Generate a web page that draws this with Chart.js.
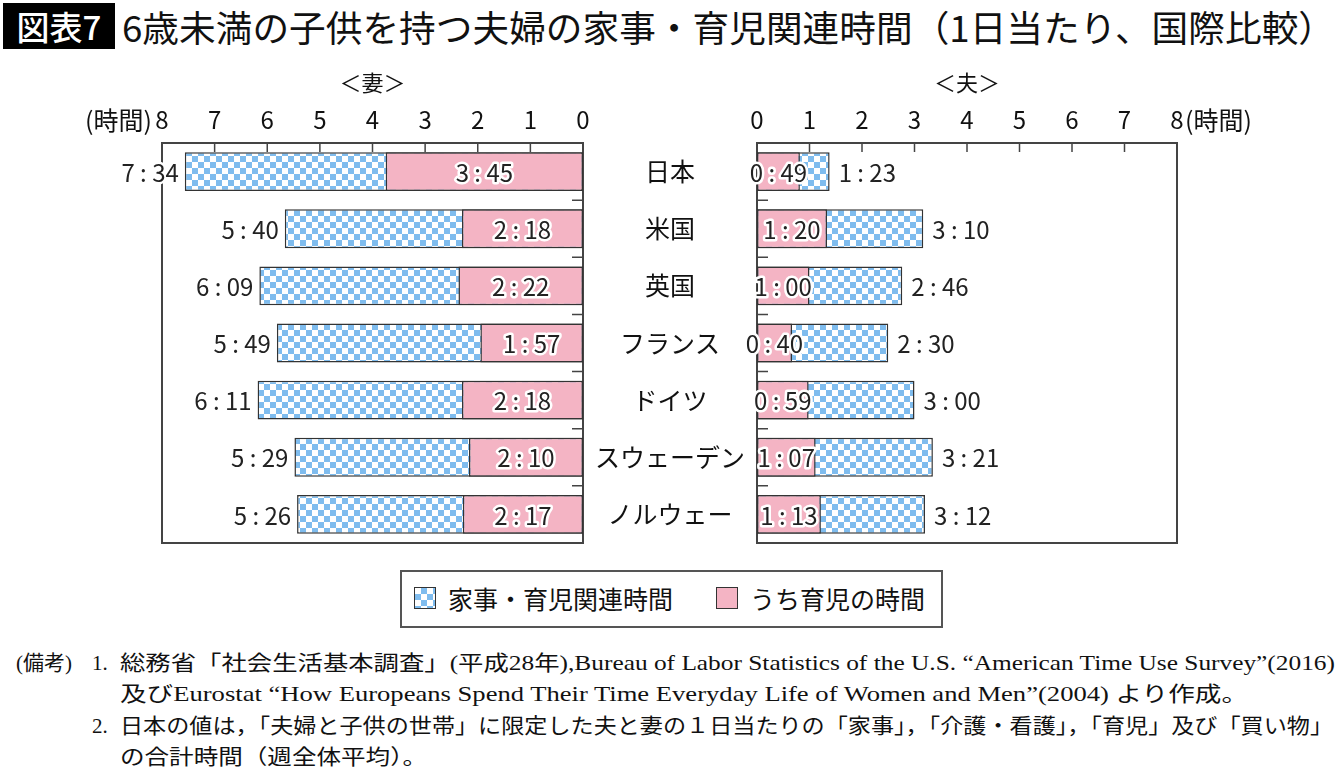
<!DOCTYPE html>
<html lang="ja">
<head>
<meta charset="utf-8">
<script src="https://cdn.jsdelivr.net/npm/chart.js@4.4.1/dist/chart.umd.min.js"></script>
<style>
body { margin:0; width:1340px; height:780px; background:#fff; position:relative; overflow:hidden; font-family:"Noto Sans CJK JP", sans-serif; color:#111; }
.abs { position:absolute; white-space:nowrap; }
#badge { left:3px; top:3px; width:112px; height:46px; background:#000; color:#fff; font-size:33px; font-weight:500; line-height:46px; text-align:center; }
#title { left:122px; top:0; font-size:36px; font-weight:400; line-height:52px; transform-origin:0 0; }
#wrapL { left:0; top:60px; width:757px; height:500px; }
#wrapR { left:700px; top:60px; width:640px; height:500px; }
#legend { left:400px; top:570px; width:539px; height:54px; border:2px solid #555; font-size:25px; }
#legend .mark { position:absolute; top:15px; width:22px; height:22px; border:1.5px solid #333; box-sizing:border-box; }
#legend .txt { position:absolute; top:-1px; line-height:54px; }
.note { font-family:"Liberation Serif","Noto Sans CJK JP",serif; font-size:21px; line-height:30px; transform-origin:0 50%; }
</style>
</head>
<body>
<div id="badge" class="abs">図表7</div>
<div id="title" class="abs">6歳未満の子供を持つ夫婦の家事・育児関連時間（1日当たり、国際比較）</div>

<div id="wrapL" class="abs"><canvas id="cL" width="757" height="500"></canvas></div>
<div id="wrapR" class="abs"><canvas id="cR" width="640" height="500"></canvas></div>

<div id="legend" class="abs">
  <span class="mark" id="mk1" style="left:12px"></span><span class="txt" style="left:46px">家事・育児関連時間</span>
  <span class="mark" id="mk2" style="left:314px"></span><span class="txt" style="left:348px">うち育児の時間</span>
</div>

<div class="abs note" style="left:16px; top:648px">(備考)</div>
<div class="abs note" style="left:92px; top:648px">1.</div>
<div class="abs note fit" data-w="1215" style="left:120px; top:648px">総務省「社会生活基本調査」(平成28年),Bureau of Labor Statistics of the U.S. “American Time Use Survey”(2016)</div>
<div class="abs note fit" data-w="1128" style="left:120px; top:679px">及びEurostat “How Europeans Spend Their Time Everyday Life of Women and Men”(2004) より作成。</div>
<div class="abs note" style="left:92px; top:711px">2.</div>
<div class="abs note fit" data-w="1213" style="left:120px; top:711px">日本の値は，「夫婦と子供の世帯」に限定した夫と妻の１日当たりの「家事」，「介護・看護」，「育児」及び「買い物」</div>
<div class="abs note fit" data-w="307" style="left:120px; top:742px">の合計時間（週全体平均）。</div>

<script>
// data (hours:minutes per day)
const countries = ['日本', '米国', '英国', 'フランス', 'ドイツ', 'スウェーデン', 'ノルウェー'];
const wifeTotal = ['7:34', '5:40', '6:09', '5:49', '6:11', '5:29', '5:26'];
const wifeChild = ['3:45', '2:18', '2:22', '1:57', '2:18', '2:10', '2:17'];
const husbandTotal = ['1:23', '3:10', '2:46', '2:30', '3:00', '3:21', '3:12'];
const husbandChild = ['0:49', '1:20', '1:00', '0:40', '0:59', '1:07', '1:13'];
const seriesNames = ['家事・育児関連時間', 'うち育児の時間'];

const FONT = '"Noto Sans CJK JP", sans-serif';
const PINK = '#f4b4c4';
const BLUE = '#7fbcee';

function toHours(s) {
    const p = s.split(':');
    return Number(p[0]) + Number(p[1]) / 60;
}
function fmt(s) {
    return s.replace(':', ' : ');
}

// checkered fill for the total bars
const tile = document.createElement('canvas');
tile.width = 12; tile.height = 12;
const tctx = tile.getContext('2d');
tctx.fillStyle = '#fff';
tctx.fillRect(0, 0, 12, 12);
tctx.fillStyle = BLUE;
tctx.fillRect(0, 0, 6, 6);
tctx.fillRect(6, 6, 6, 6);
const checker = tctx.createPattern(tile, 'repeat');

document.getElementById('mk1').style.background = 'repeating-conic-gradient(' + BLUE + ' 0 25%, #fff 0 50%) 0 0/12px 12px';
document.getElementById('mk2').style.background = PINK;

// box, inward ticks, heading and unit
const framePlugin = {
    id: 'frame',
    beforeDatasetsDraw(chart, args, opts) {
        const ctx = chart.ctx;
        const a = chart.chartArea;
        const x = chart.scales.x, y = chart.scales.y;
        ctx.save();
        ctx.strokeStyle = '#444';
        ctx.lineWidth = 2;
        ctx.strokeRect(a.left, a.top, a.right - a.left, a.bottom - a.top);
        ctx.lineWidth = 1.5;
        ctx.beginPath();
        x.ticks.forEach(function(t) {
            if (t.value > 0 && t.value < 8) {
                const px = x.getPixelForValue(t.value);
                ctx.moveTo(px, a.top);
                ctx.lineTo(px, a.top + 9);
            }
        });
        const edge = opts.side === 'right' ? a.right : a.left;
        const dir = opts.side === 'right' ? -1 : 1;
        for (let i = 1; i < countries.length; i++) {
            const py = y.getPixelForValue(i - 0.5);
            ctx.moveTo(edge, py);
            ctx.lineTo(edge + dir * 11, py);
        }
        ctx.stroke();

        ctx.fillStyle = '#111';
        ctx.textBaseline = 'middle';
        ctx.textAlign = 'center';
        ctx.font = '22px ' + FONT;
        ctx.fillText(opts.heading, (a.left + a.right) / 2, a.top - 60);
        ctx.font = '25px ' + FONT;
        const p8 = x.getPixelForValue(8);
        if (opts.side === 'right') {
            ctx.textAlign = 'right';
            ctx.fillText('(時間)', p8 - 10, a.top - 23);
        } else {
            ctx.textAlign = 'left';
            ctx.fillText('(時間)', p8 + 8, a.top - 23);
        }
        ctx.restore();
    }
};

// value labels: totals at the bar end, child-care centred in the pink part
function valuePlugin(texts) {
    return {
        id: 'values',
        afterDatasetsDraw(chart) {
            const ctx = chart.ctx;
            ctx.save();
            ctx.font = '24px ' + FONT;
            ctx.textBaseline = 'middle';
            ctx.lineJoin = 'round';
            chart.data.datasets.forEach(function(ds, di) {
                chart.getDatasetMeta(di).data.forEach(function(el, i) {
                    const p = el.getProps(['x', 'y', 'base'], true);
                    const text = fmt(texts[di][i]);
                    let tx;
                    if (di === 1) {
                        ctx.textAlign = 'center';
                        tx = (p.x + p.base) / 2;
                    } else if (p.x < p.base) {
                        ctx.textAlign = 'right';
                        tx = p.x - 6;
                    } else {
                        ctx.textAlign = 'left';
                        tx = p.x + 9;
                    }
                    ctx.strokeStyle = '#fff';
                    ctx.lineWidth = 5;
                    ctx.strokeText(text, tx, p.y + 1);
                    ctx.fillStyle = '#222';
                    ctx.fillText(text, tx, p.y + 1);
                });
            });
            ctx.restore();
        }
    };
}

function makeChart(id, total, child, side, heading, padding) {
    const showCats = side === 'right';
    return new Chart(document.getElementById(id), {
        type: 'bar',
        data: {
            labels: countries,
            datasets: [
                { label: seriesNames[0], data: total.map(toHours), backgroundColor: checker, order: 2 },
                { label: seriesNames[1], data: child.map(toHours), backgroundColor: PINK, order: 1 }
            ]
        },
        options: {
            indexAxis: 'y',
            responsive: false,
            animation: false,
            layout: { padding: padding },
            datasets: {
                bar: { grouped: false, categoryPercentage: 1, barPercentage: 0.68, borderWidth: 1.5, borderColor: '#333', borderSkipped: false }
            },
            scales: {
                x: {
                    position: 'top', reverse: showCats, min: 0, max: 8,
                    afterFit: function(s) { s.height = 83; s.paddingLeft = 0; s.paddingRight = 0; },
                    ticks: { stepSize: 1, autoSkip: false, maxRotation: 0, padding: 9, color: '#111', font: { size: 24, family: FONT } },
                    grid: { display: false, drawTicks: false },
                    border: { display: false }
                },
                y: {
                    display: showCats,
                    position: 'right',
                    afterFit: function(s) { s.width = showCats ? 174 : 0; s.paddingTop = 0; s.paddingBottom = 0; },
                    ticks: { crossAlign: 'center', padding: 12, color: '#111', font: { size: 25, family: FONT } },
                    grid: { display: false, drawTicks: false },
                    border: { display: false }
                }
            },
            plugins: {
                legend: { display: false },
                tooltip: { enabled: false },
                frame: { side: side, heading: heading }
            }
        },
        plugins: [framePlugin, valuePlugin([total, child])]
    });
}

makeChart('cL', wifeTotal, wifeChild, 'right', '＜妻＞', { left: 162, right: 0, top: 0, bottom: 17 });
makeChart('cR', husbandTotal, husbandChild, 'left', '＜夫＞', { left: 57, right: 163, top: 0, bottom: 17 });

// squeeze text lines to the widths in the figure
function fitWidth(el, w) {
    const cur = el.getBoundingClientRect().width;
    el.style.transform = 'scaleX(' + (w / cur) + ')';
}
fitWidth(document.getElementById('title'), 1213);
document.querySelectorAll('.fit').forEach(function(el) {
    fitWidth(el, Number(el.dataset.w));
});
</script>
</body>
</html>
